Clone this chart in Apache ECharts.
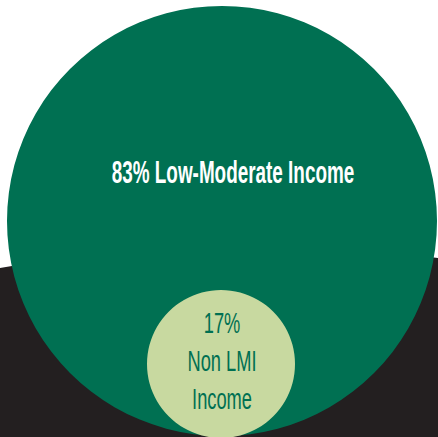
<!DOCTYPE html>
<html>
<head>
<meta charset="utf-8">
<script src="https://cdn.jsdelivr.net/npm/echarts@6/dist/echarts.min.js"></script>
<style>
  html, body { margin: 0; padding: 0; background: #ffffff; }
  #chart { width: 438px; height: 437px; }
</style>
</head>
<body>
<div id="chart"></div>
<script>
// ---- data ----
const categories = ['Low-Moderate Income', 'Non LMI Income'];
const shares = [83, 17];
const labelLines = [
  [shares[0] + '% Low-Moderate Income'],
  [shares[1] + '%', 'Non LMI', 'Income']
];

// ---- layout (positions / sizes, in axis units) ----
const layout = {
  centerX: [222, 221],
  centerY: [221, 364],
  radius: [215, 74],
  labelDx: [11, 1],
  labelDy: [-49, -3]
};

// ---- styles ----
const styles = [
  { fill: '#007052', text: '#ffffff', font: 'bold 31px "Liberation Sans", Arial, sans-serif', scaleX: 0.61, lineHeight: 38 },
  { fill: '#c8d9a0', text: '#007052', font: '29px "Liberation Sans", Arial, sans-serif', scaleX: 0.63, lineHeight: 38 }
];

const seriesData = categories.map((c, i) => ({
  name: c,
  value: [layout.centerX[i], layout.centerY[i], layout.radius[i], shares[i], i]
}));

const chart = echarts.init(document.getElementById('chart'), null, { renderer: 'svg' });
chart.setOption({
  animation: false,
  backgroundColor: '#ffffff',
  grid: { left: 0, right: 0, top: 0, bottom: 0 },
  xAxis: { type: 'value', min: 0, max: 438, show: false },
  yAxis: { type: 'value', min: 0, max: 437, inverse: true, show: false },
  graphic: [{
    type: 'circle',
    z: 0,
    shape: { cx: 252, cy: 1693, r: 1447 },
    style: { fill: '#231f20' }
  }],
  series: [{
    type: 'custom',
    z: 5,
    coordinateSystem: 'cartesian2d',
    data: seriesData,
    renderItem: function (params, api) {
      const i = api.value(4);
      const c = api.coord([api.value(0), api.value(1)]);
      const r = api.size([api.value(2), api.value(2)])[0];
      const st = styles[i];
      return {
        type: 'group',
        children: [
          { type: 'circle', shape: { cx: c[0], cy: c[1], r: r }, style: { fill: st.fill } },
          {
            type: 'text',
            x: c[0] + layout.labelDx[i],
            y: c[1] + layout.labelDy[i],
            scaleX: st.scaleX,
            style: {
              text: labelLines[i].join('\n'),
              x: 0, y: 0,
              fill: st.text,
              font: st.font,
              lineHeight: st.lineHeight,
              align: 'center',
              verticalAlign: 'middle'
            }
          }
        ]
      };
    }
  }]
});
</script>
</body>
</html>
